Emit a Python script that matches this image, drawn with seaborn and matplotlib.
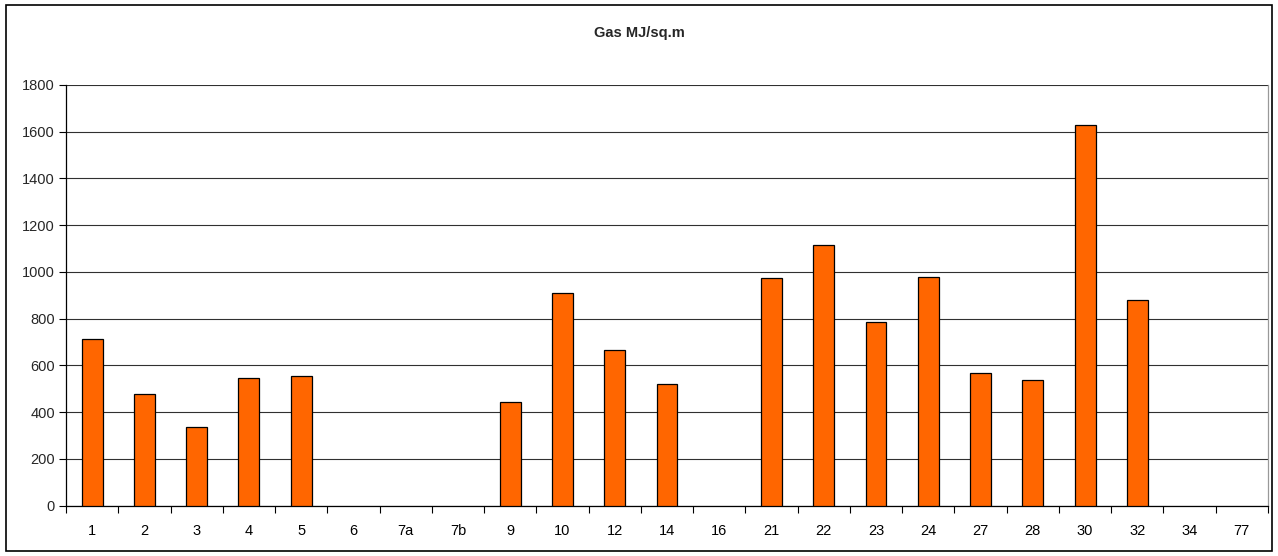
import numpy as np
import pandas as pd
import matplotlib
matplotlib.use("Agg")
import matplotlib.pyplot as plt
import seaborn as sns
from matplotlib.patches import Rectangle
from matplotlib.ticker import FixedLocator, MultipleLocator

categories = ["1", "2", "3", "4", "5", "6", "7a", "7b", "9", "10", "12", "14", "16",
              "21", "22", "23", "24", "27", "28", "30", "32", "34", "77"]
gas_values = [712, 476, 338, 547, 556, np.nan, np.nan, np.nan, 445, 908, 665, 519, np.nan,
              973, 1114, 786, 977, 568, 538, 1628, 880, np.nan, np.nan]
title_text = "Gas MJ/sq.m"

sns.set_theme(style="white")
plt.rcParams['font.family'] = ['Liberation Sans', 'DejaVu Sans']

df = pd.DataFrame({"cat": categories, "val": gas_values})

fig = plt.figure(figsize=(12.78, 5.56), dpi=100)
ax = fig.add_axes([66/1278, (556-505.7)/556, (1268-66)/1278, (505.7-85)/556])

sns.barplot(data=df, x="cat", y="val", order=categories, color="#FF6600",
            saturation=1, width=0.4, edgecolor="black", linewidth=0.9, ax=ax, zorder=3)

ax.set_ylim(0, 1800)
ax.set_xlim(-0.5, len(categories) - 0.5)
ax.yaxis.set_major_locator(MultipleLocator(200))
ax.grid(axis="y", color="#303030", linewidth=0.8, zorder=0)
ax.set_axisbelow(True)
ax.set_xlabel("")
ax.set_ylabel("")

ax.xaxis.set_minor_locator(FixedLocator(np.arange(-0.5, len(categories), 1.0)))
ax.tick_params(axis="x", which="major", length=0, labelsize=10.5, pad=13, colors="black")
ax.tick_params(axis="x", which="minor", length=5, width=0.8, direction="out", color="black", bottom=True)
ax.tick_params(axis="y", which="major", length=5, width=0.8, direction="out", color="black",
               labelsize=10.5, left=True, pad=3)

for s in ["left", "bottom"]:
    ax.spines[s].set_color("black")
    ax.spines[s].set_linewidth(0.9)
ax.spines["top"].set_visible(False)
ax.spines["right"].set_color("#999999")
ax.spines["right"].set_linewidth(0.9)

fig.text(0.5, (556-33)/556, title_text, ha="center", va="center", fontsize=10.5, fontweight="bold")

fig.patches.append(Rectangle((6/1278, 5/556), 1266/1278, 546/556, transform=fig.transFigure,
                             fill=False, edgecolor="black", linewidth=1.2))

fig.savefig("out.png", dpi=100)
